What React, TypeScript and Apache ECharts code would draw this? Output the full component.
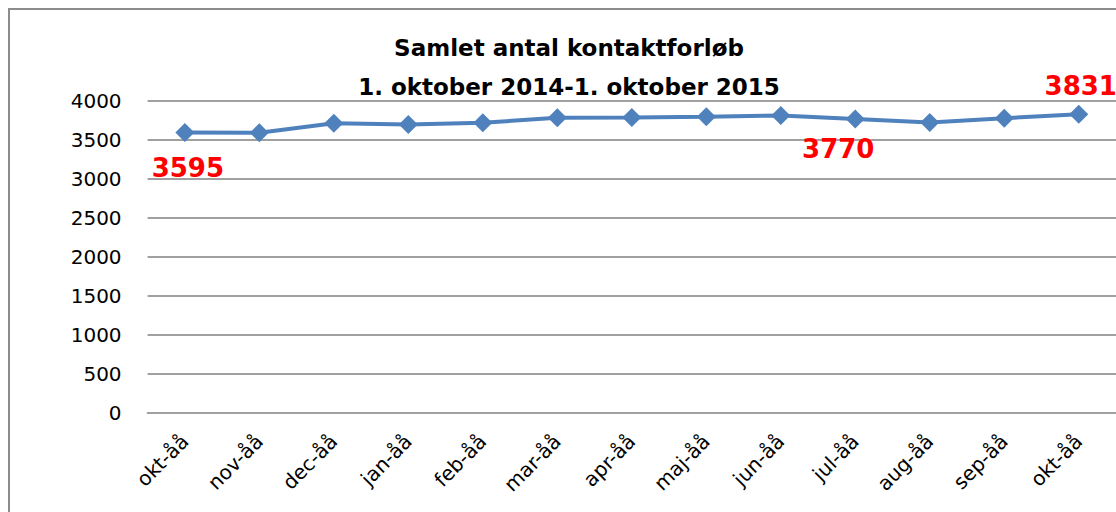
import React, { useEffect, useRef } from "react";
import * as echarts from "echarts";

const categories = ["okt-åå", "nov-åå", "dec-åå", "jan-åå", "feb-åå", "mar-åå", "apr-åå", "maj-åå", "jun-åå", "jul-åå", "aug-åå", "sep-åå", "okt-åå"];
const values = [3595, 3593, 3715, 3700, 3722, 3785, 3788, 3797, 3815, 3770, 3725, 3780, 3831];
const titleLines = ["Samlet antal kontaktforløb", "1. oktober 2014-1. oktober 2015"];
// index -> [dx, dy] offset of the red value label
const labelled: Record<number, [number, number]> = { 0: [3, 35], 9: [-17, 30], 12: [2, -28] };

const FONT = "DejaVu Sans";

export default function App() {
  const ref = useRef<HTMLDivElement>(null);
  useEffect(() => {
    if (!ref.current) return;
    const chart = echarts.init(ref.current, null, { renderer: "svg" });
    const data = values.map((v, i) => {
      const off = labelled[i];
      if (!off) return v;
      return {
        value: v,
        label: {
          show: true,
          position: "inside",
          offset: off,
          formatter: String(v),
          color: "#FF0000",
          fontFamily: FONT,
          fontWeight: "bold",
          fontSize: 26,
        },
      };
    });
    chart.setOption({
      animation: false,
      backgroundColor: "#ffffff",
      grid: { left: 147.6, right: -4.7, top: 101, bottom: 99, containLabel: false },
      xAxis: {
        type: "category",
        data: categories,
        boundaryGap: true,
        axisLine: { show: true, lineStyle: { color: "#A0A0A0", width: 2 } },
        axisTick: { show: false },
        axisLabel: { rotate: 45, margin: 25, fontFamily: FONT, fontSize: 20, color: "#000000", interval: 0 },
        splitLine: { show: false },
      },
      yAxis: {
        type: "value",
        min: 0,
        max: 4000,
        interval: 500,
        axisLine: { show: false },
        axisTick: { show: false },
        axisLabel: { margin: 26, fontFamily: FONT, fontSize: 20, color: "#000000", formatter: (v: number) => String(v) },
        splitLine: { show: true, lineStyle: { color: "#A0A0A0", width: 2 } },
      },
      graphic: [
        {
          type: "rect",
          shape: { x: 9, y: 9, width: 1300, height: 700 },
          style: { fill: "none", stroke: "#8C8C8C", lineWidth: 2 },
          z: -1,
        },
        {
          type: "text",
          x: 569,
          y: 48,
          style: { text: titleLines[0], fontFamily: FONT, fontWeight: "bold", fontSize: 23, fill: "#000000", align: "center", verticalAlign: "middle" },
        },
        {
          type: "text",
          x: 569,
          y: 87,
          style: { text: titleLines[1], fontFamily: FONT, fontWeight: "bold", fontSize: 23, fill: "#000000", align: "center", verticalAlign: "middle" },
        },
      ],
      series: [
        {
          type: "line",
          data,
          symbol: "diamond",
          symbolSize: 19,
          lineStyle: { color: "#4F81BD", width: 4 },
          itemStyle: { color: "#4F81BD" },
          label: { show: false },
          z: 3,
        },
      ],
    });
    return () => chart.dispose();
  }, []);
  return <div ref={ref} style={{ position: "fixed", left: 0, top: 0, width: 1116, height: 512 }} />;
}
